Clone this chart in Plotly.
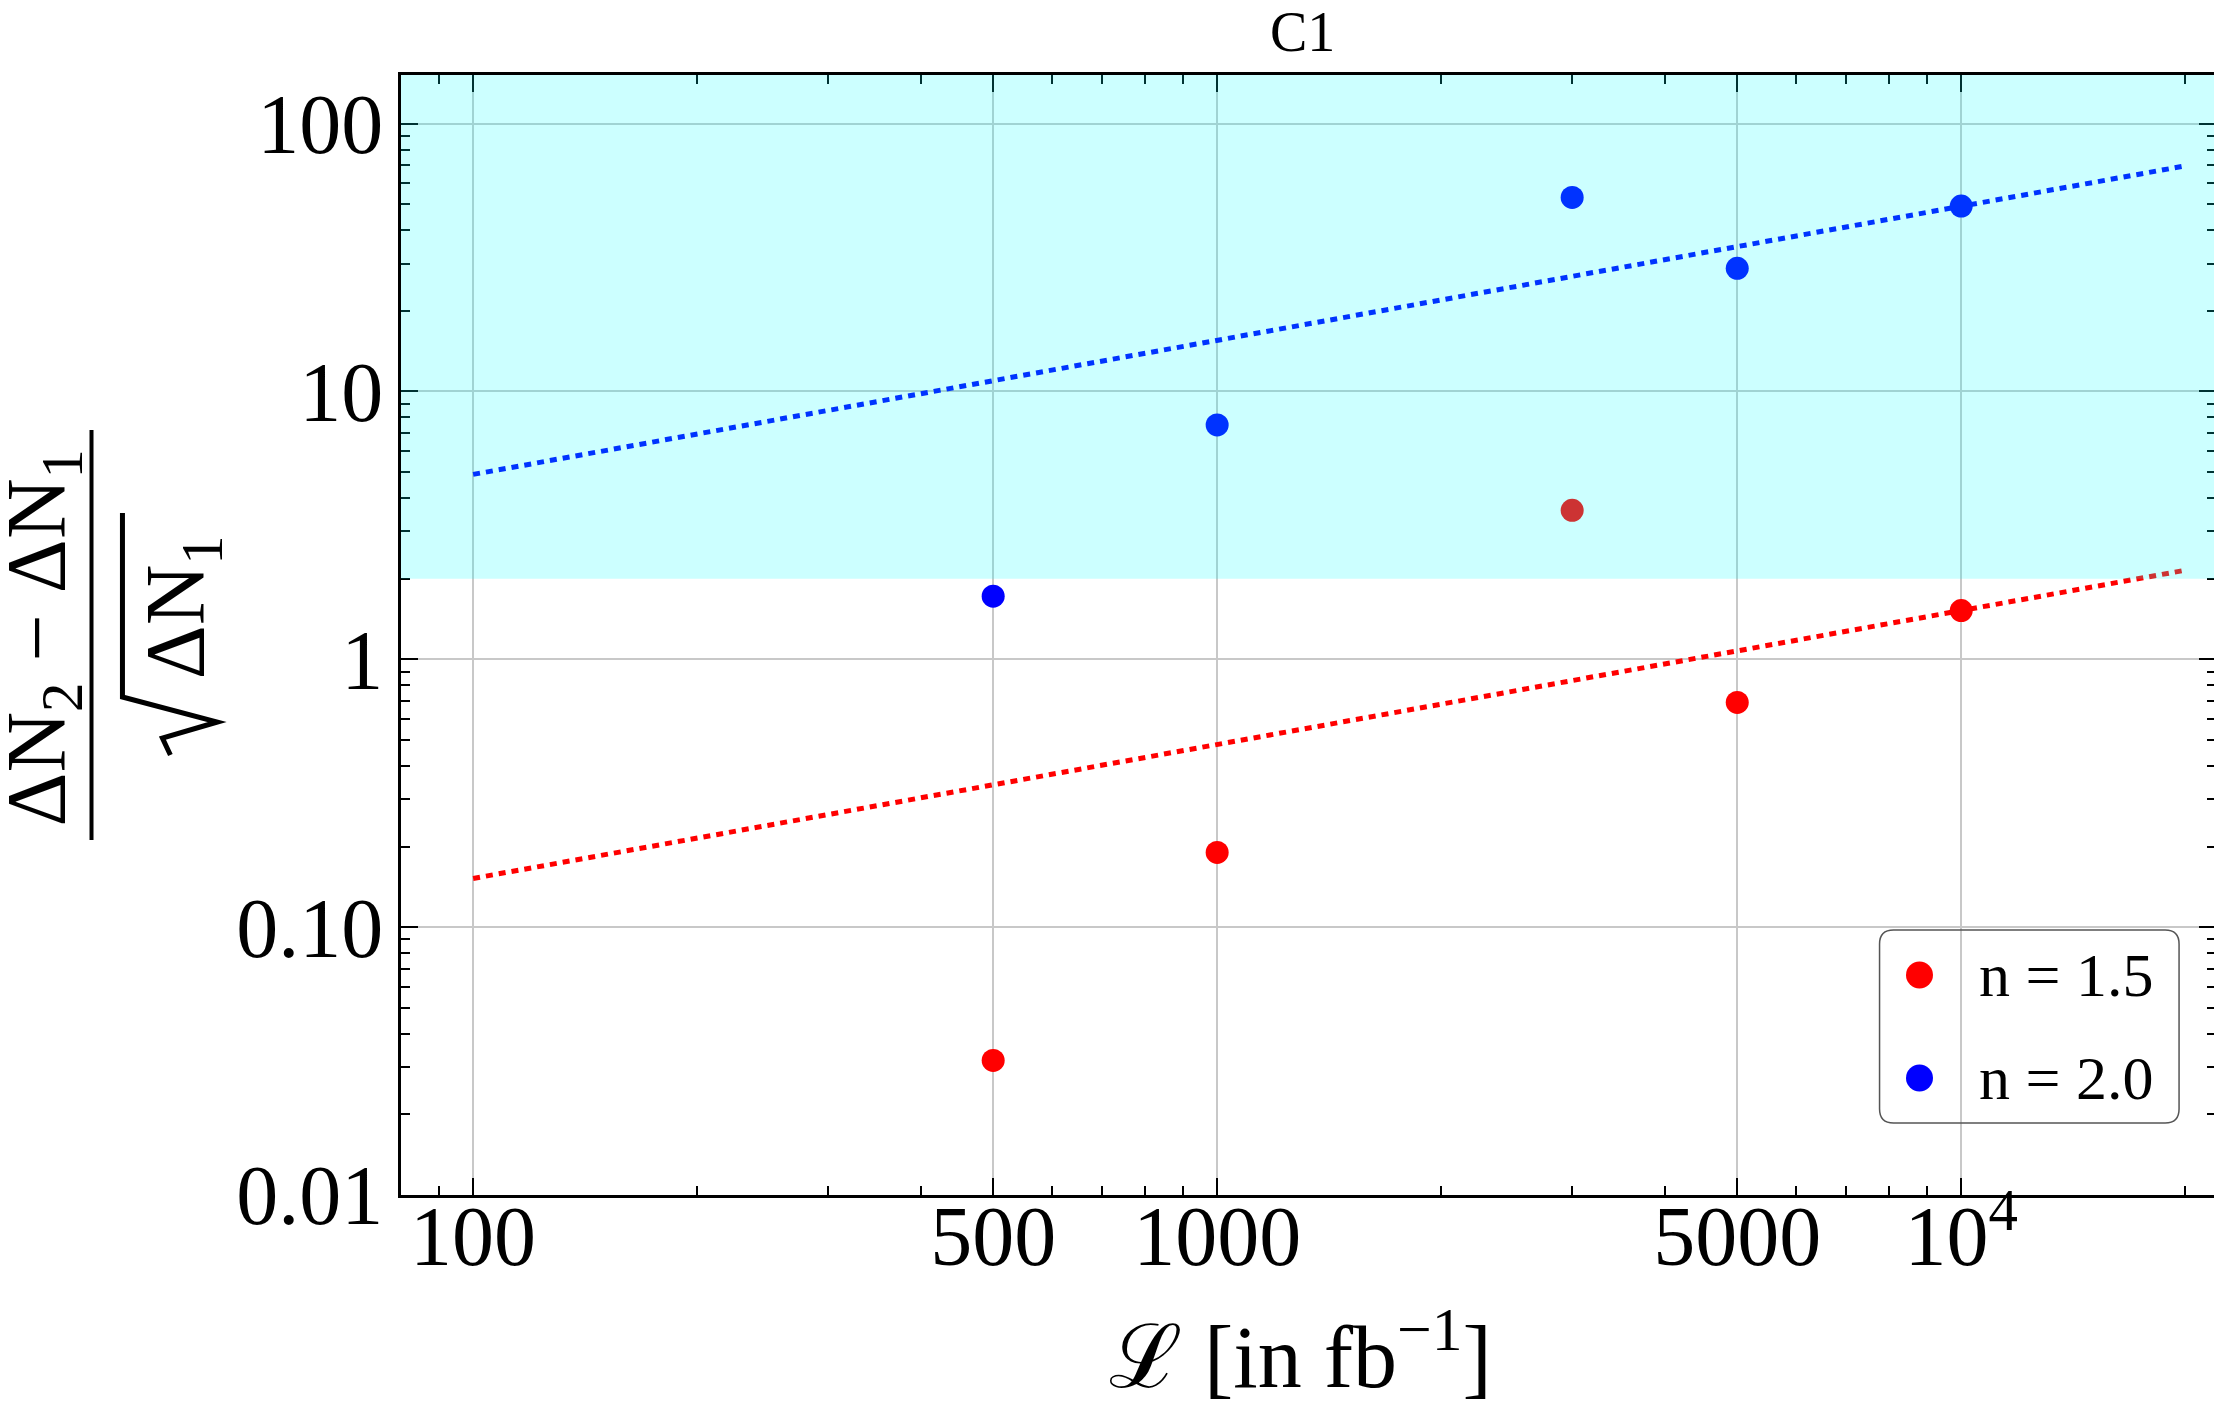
import math
import plotly.graph_objects as go

# luminosity points [fb^-1]
lumi = [500, 1000, 3000, 5000, 10000]
# (dN2 - dN1)/sqrt(dN1)
sig_n15 = [0.0318, 0.19, 3.6, 0.69, 1.52]
sig_n20 = [1.72, 7.5, 53, 28.8, 49.2]

# dotted fit lines, end points only
fit_lumi = [100, 20000]
fit_n15 = [0.152, 2.15]
fit_n20 = [4.9, 69.5]

band_low = 2.0   # shaded region starts here

x_tickvals = [100, 500, 1000, 5000, 10000]
x_ticktext = ["100", "500", "1000", "5000", "10<sup>4</sup>"]
y_tickvals = [0.01, 0.1, 1, 10, 100]
y_ticktext = ["0.01", "0.10", "1", "10", "100"]

x_range = [80, 22000]
y_range = [0.01, 151.8]

# page has an 8px body margin, so the figure is a bit smaller than the window
WIN_W, WIN_H, OFF = 2222, 1416, 8
W, H = WIN_W - OFF, WIN_H - OFF
# plot area in window pixels
PL, PR, PT, PB = 401, 2219, 75, 1195
FONT = "Liberation Serif"


def px(x):  # window pixel -> paper x
    return (x - PL) / (PR - PL)


def py(y):  # window pixel -> paper y
    return (PB - y) / (PB - PT)


x_minor = [80, 90] + [k * 10 ** e for e in (2, 3) for k in range(2, 10) if k != 5] + [20000]
y_minor = [k * 10 ** e for e in (-2, -1, 0, 1) for k in range(2, 10)]

fig = go.Figure()
fig.add_trace(go.Scatter(x=fit_lumi, y=fit_n15, mode="lines", showlegend=False,
                         line=dict(color="#FF0000", width=5, dash="7px,6px")))
fig.add_trace(go.Scatter(x=fit_lumi, y=fit_n20, mode="lines", showlegend=False,
                         line=dict(color="#0000FF", width=5, dash="7px,6px")))
fig.add_trace(go.Scatter(x=lumi, y=sig_n15, mode="markers", name="n = 1.5", showlegend=False,
                         marker=dict(color="#FF0000", size=23)))
fig.add_trace(go.Scatter(x=lumi, y=sig_n20, mode="markers", name="n = 2.0", showlegend=False,
                         marker=dict(color="#0000FF", size=23)))

axis_common = dict(
    type="log", ticks="inside", ticklen=17, tickwidth=2, tickcolor="black",
    showline=True, linecolor="black", linewidth=3, mirror="ticks",
    showgrid=True, gridcolor="#C8C8C8", gridwidth=2, zeroline=False,
    tickfont=dict(family=FONT, size=84, color="black"),
)

fig.update_xaxes(
    range=[math.log10(x_range[0]), math.log10(x_range[1])],
    tickmode="array", tickvals=x_tickvals, ticktext=x_ticktext,
    minor=dict(tickmode="array", tickvals=x_minor, ticks="inside", ticklen=9,
               tickwidth=1.5, tickcolor="black", showgrid=False),
    ticklabelstandoff=-34,
    **axis_common,
)
fig.update_yaxes(
    range=[math.log10(y_range[0]), math.log10(y_range[1])],
    tickmode="array", tickvals=y_tickvals, ticktext=y_ticktext,
    minor=dict(tickmode="array", tickvals=y_minor, ticks="inside", ticklen=9,
               tickwidth=1.5, tickcolor="black", showgrid=False),
    ticklabelstandoff=-2,
    **axis_common,
)

# translucent cyan band drawn over the data
fig.add_shape(type="rect", xref="paper", yref="y", x0=0, x1=1, y0=band_low, y1=y_range[1],
              fillcolor="rgba(0,255,255,0.2)", line=dict(width=0), layer="above")


def label(x, y, text, size, angle=0, xanchor="center"):
    fig.add_annotation(xref="paper", yref="paper", x=px(x), y=py(y), text=text,
                       textangle=angle, showarrow=False, xanchor=xanchor, yanchor="middle",
                       font=dict(family=FONT, size=size, color="black"))


# y-axis title as a fraction
label(42, 638, "ΔN<sub>2</sub> − ΔN<sub>1</sub>", 84, angle=-90)
fig.add_shape(type="line", xref="paper", yref="paper", x0=px(91), x1=px(91), y0=py(430), y1=py(840),
              line=dict(color="black", width=4))
label(182, 607, "ΔN<sub>1</sub>", 84, angle=-90)
rad = [(170, 755), (162, 738), (217, 722), (122, 697), (122, 513)]
path = "M " + " L ".join(f"{px(a):.5f},{py(b):.5f}" for a, b in rad)
fig.add_shape(type="path", xref="paper", yref="paper", path=path,
              line=dict(color="black", width=5))

# x-axis title and plot title
label(1302, 1350, "ℒ [in fb<sup>−1</sup>]", 88)
label(1304, 32, "C1", 56)

# hand-drawn legend with rounded box
x0, x1, y0, y1, r = 1882, 2182, 930, 1123, 14
rx, ry = r / (PR - PL), r / (PB - PT)
X0, X1, Y0, Y1 = px(x0), px(x1), py(y1), py(y0)
box = (f"M {X0 + rx},{Y0} L {X1 - rx},{Y0} Q {X1},{Y0} {X1},{Y0 + ry} "
       f"L {X1},{Y1 - ry} Q {X1},{Y1} {X1 - rx},{Y1} L {X0 + rx},{Y1} "
       f"Q {X0},{Y1} {X0},{Y1 - ry} L {X0},{Y0 + ry} Q {X0},{Y0} {X0 + rx},{Y0} Z")
fig.add_shape(type="path", xref="paper", yref="paper", path=box,
              line=dict(color="#555555", width=1.5))
for tr, yc in zip(fig.data[2:], (975, 1078)):
    fig.add_shape(type="circle", xref="paper", yref="paper", xsizemode="pixel", ysizemode="pixel",
                  xanchor=px(1922), yanchor=py(yc), x0=-13.5, x1=13.5, y0=-13.5, y1=13.5,
                  fillcolor=tr.marker.color, line=dict(width=0))
    label(1980, yc, tr.name, 62, xanchor="left")

fig.update_layout(
    width=W, height=H,
    margin=dict(l=PL - OFF, r=WIN_W - PR, t=PT - OFF, b=WIN_H - PB),
    paper_bgcolor="white", plot_bgcolor="white",
    showlegend=False,
)

fig.write_html("out.html")
